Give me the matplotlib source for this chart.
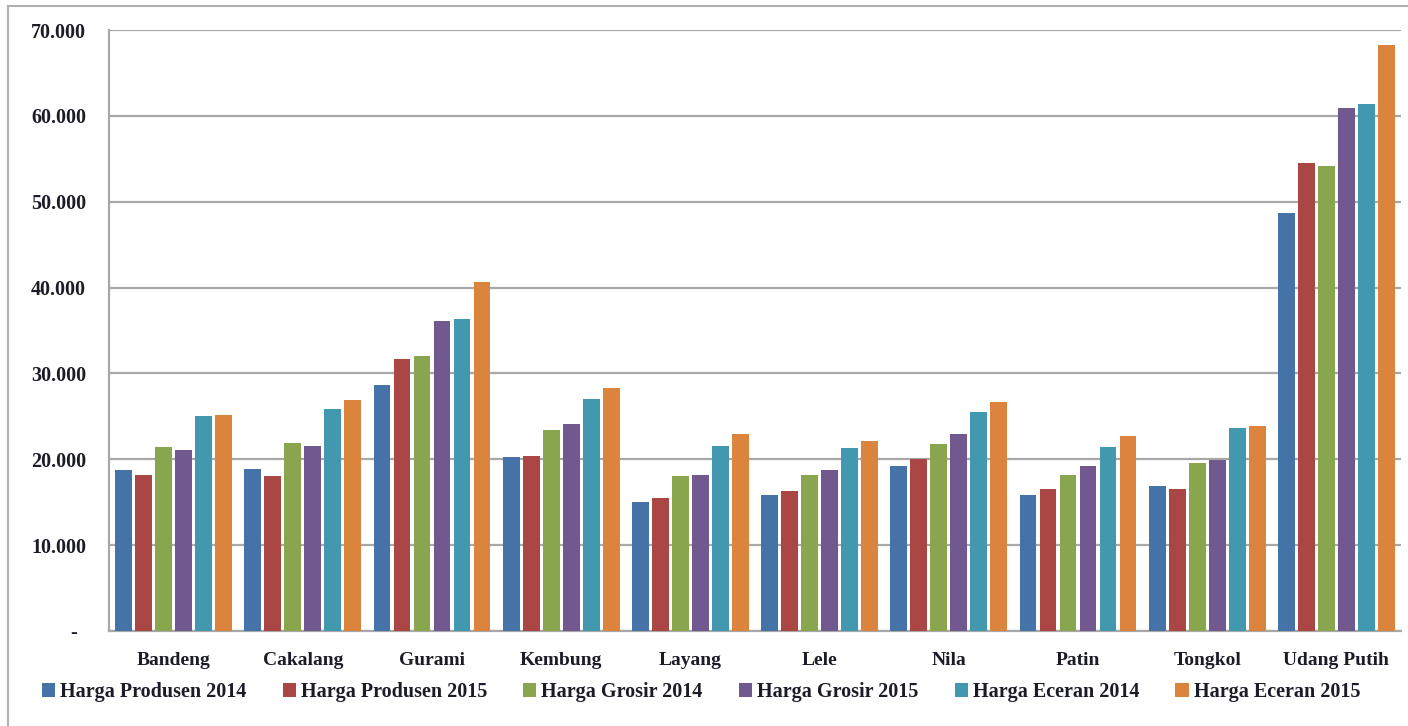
import matplotlib
matplotlib.use("Agg")
import matplotlib.pyplot as plt
from matplotlib.patches import Patch
from matplotlib.lines import Line2D
from matplotlib.ticker import FixedLocator, FuncFormatter
import matplotlib.transforms as mtransforms

# Fish price data (Rp/kg)
categories = ["Bandeng", "Cakalang", "Gurami", "Kembung", "Layang",
              "Lele", "Nila", "Patin", "Tongkol", "Udang Putih"]
series_names = ["Harga Produsen 2014", "Harga Produsen 2015",
                "Harga Grosir 2014", "Harga Grosir 2015",
                "Harga Eceran 2014", "Harga Eceran 2015"]
produsen_2014 = [18700, 18900, 28700, 20300, 15000, 15800, 19200, 15800, 16900, 48700]
produsen_2015 = [18200, 18100, 31700, 20400, 15500, 16300, 20000, 16500, 16500, 54500]
grosir_2014 = [21400, 21900, 32000, 23400, 18000, 18200, 21800, 18200, 19600, 54200]
grosir_2015 = [21100, 21500, 36100, 24100, 18200, 18700, 22900, 19200, 19900, 60900]
eceran_2014 = [25000, 25900, 36300, 27000, 21500, 21300, 25500, 21400, 23600, 61400]
eceran_2015 = [25200, 26900, 40600, 28300, 23000, 22100, 26700, 22700, 23900, 68300]
yticks = [0, 10000, 20000, 30000, 40000, 50000, 60000, 70000]

series = [produsen_2014, produsen_2015, grosir_2014, grosir_2015, eceran_2014, eceran_2015]
colors = ["#4572A7", "#AA4643", "#89A54E", "#71588F", "#4198AF", "#DB843D"]

plt.rcParams["font.family"] = ["Liberation Serif", "DejaVu Serif"]
plt.rcParams["font.weight"] = "bold"
text_color = "#1c1c28"
grid_color = "#a8a8a8"

W, H = 1408, 726
fig = plt.figure(figsize=(W / 100, H / 100), dpi=100)
ax = fig.add_axes([109 / W, 1 - 631 / H, (1401 - 109) / W, (631 - 30) / H])

step = 0.155
width = 0.13
for j, (vals, col) in enumerate(zip(series, colors)):
    xs = [i + (j - 2.5) * step for i in range(len(categories))]
    ax.bar(xs, vals, width=width, color=col, zorder=3)

ax.set_xlim(-0.5, len(categories) - 0.5)
ax.set_ylim(0, 70000)
ax.set_xticks(range(len(categories)))
ax.set_xticklabels(categories, fontsize=14, color=text_color, fontweight="bold")
ax.yaxis.set_major_locator(FixedLocator(yticks))


def fmt(v, pos):
    if v == 0:
        return "-"
    return f"{int(v):,}".replace(",", ".")


ax.yaxis.set_major_formatter(FuncFormatter(fmt))
ax.tick_params(axis="y", length=0, pad=16.5, labelsize=14.5, labelcolor=text_color)
ax.tick_params(axis="x", length=0, pad=15, labelcolor=text_color)

ax.grid(axis="y", color=grid_color, linewidth=1.6, zorder=0)
ax.set_axisbelow(True)
for side in ("top", "right"):
    ax.spines[side].set_visible(False)
for side in ("left", "bottom"):
    ax.spines[side].set_color(grid_color)
    ax.spines[side].set_linewidth(1.6)

# shift the zero label ("-") a little to the left
fig.canvas.draw()
for lbl in ax.get_yticklabels():
    if lbl.get_text() == "-":
        lbl.set_transform(lbl.get_transform() +
                          mtransforms.ScaledTranslation(-9 / 100, 0, fig.dpi_scale_trans))

handles = [Patch(facecolor=c, edgecolor="none") for c in colors]
fig.legend(handles, series_names, loc="center", bbox_to_anchor=(701 / W, 1 - 692 / H),
           ncol=6, frameon=False, handlelength=0.65, handleheight=0.65,
           handletextpad=0.25, columnspacing=1.8,
           prop={"family": ["Liberation Serif"], "weight": "bold", "size": 14.5},
           labelcolor=text_color)

# outer frame
fig.add_artist(Line2D([8 / W, 8 / W], [0, 1 - 6 / H], transform=fig.transFigure,
                      color="#b0b0b0", linewidth=1.5))
fig.add_artist(Line2D([8 / W, 1], [1 - 6 / H, 1 - 6 / H], transform=fig.transFigure,
                      color="#b0b0b0", linewidth=1.5))

fig.savefig("out.png", dpi=100, facecolor="white")
